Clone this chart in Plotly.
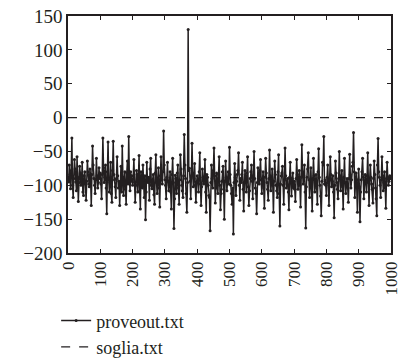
import plotly.graph_objects as go

# samples: set A at x = 0, 4, 8, ... ; set B at x = 2, 6, 10, ...
x_step = 4
proveout_a = [
    -88, -70, -105, -30, -118, -62, -95, -58, -124, -72, -100, -66, -115, -80, -122, -64, -98, -76, -130, -42, -90, -112, -60, -104, -74,
    -82, -120, -30, -96, -70, -142, -36, -110, -66, -125, -35, -92, -118, -58, -104, -130, -72, -42, -115, -80, -128, -64, -28, -108, -86,
    -100, -62, -125, -78, -110, -56, -135, -88, -70, -118, -151, -66, -96, -122, -60, -105, -84, -128, -55, -112, -74, -132, -58, -98, -20,
    -92, -120, -66, -108, -80, -135, -60, -164, -85, -112, -70, -128, -55, -100, -118, -25, -90, -140, 130, -75, -120, -38, -102, -68, -125,
    -86, -110, -52, -130, -76, -98, -62, -140, -88, -115, -167, -70, -104, -45, -126, -82, -112, -58, -136, -94, -72, -150, -64, -108, -80,
    -44, -100, -128, -172, -68, -115, -84, -52, -122, -96, -66, -138, -78, -110, -58, -130, -90, -70, -120, -50, -104, -142, -74, -98, -62,
    -112, -80, -134, -60, -96, -122, -48, -108, -76, -140, -64, -100, -118, -55, -160, -86, -72, -128, -45, -104, -90, -136, -66, -116, -82,
    -94, -124, -62, -106, -78, -132, -40, -98, -70, -163, -88, -52, -118, -74, -138, -60, -110, -84, -128, -46, -100, -145, -66, -28, -92,
    -115, -70, -130, -58, -102, -86, -148, -64, -96, -120, -50, -108, -78, -135, -60, -112, -90, -125, -54, -104, -72, -22, -118, -82, -140,
    -76, -154, -92, -60, -120, -84, -110, -52, -130, -70, -98, -126, -64, -104, -145, -31, -88, -118, -58, -108, -80, -134, -66, -100, -86,
    -90,
]
proveout_b = [
    -95, -84, -78, -100, -90, -76, -108, -88, -96, -82, -92, -110, -86, -98, -94, -80, -102, -88, -84, -70, -100, -92, -86, -96, -90,
    -98, -84, -74, -88, -104, -80, -90, -96, -112, -78, -84, -102, -90, -86, -94, -100, -110, -88, -92, -106, -82, -98, -90, -80, -94,
    -86, -96, -100, -84, -90, -108, -80, -104, -92, -86, -110, -94, -88, -76, -100, -92, -114, -82, -96, -90, -104, -86, -92, -80, -70,
    -100, -88, -94, -98, -110, -84, -96, -120, -90, -82, -104, -92, -76, -108, -86, -70, -112, -96, -78, -94, -86, -82, -90, -100, -96,
    -94, -80, -98, -102, -88, -92, -110, -84, -100, -118, -96, -90, -78, -86, -104, -96, -84, -100, -112, -80, -106, -94, -88, -92, -98,
    -84, -112, -104, -96, -88, -94, -78, -100, -90, -84, -106, -96, -92, -82, -102, -108, -80, -94, -86, -90, -112, -96, -88, -78, -92,
    -92, -104, -88, -82, -106, -90, -86, -96, -100, -94, -84, -108, -80, -112, -98, -82, -100, -92, -86, -98, -110, -88, -96, -90, -104,
    -106, -90, -84, -96, -100, -88, -80, -86, -110, -102, -76, -92, -98, -104, -90, -86, -96, -104, -80, -88, -116, -94, -70, -98, -100,
    -88, -96, -92, -84, -94, -110, -100, -82, -106, -90, -86, -94, -102, -88, -96, -98, -104, -90, -84, -92, -66, -80, -96, -104, -92,
    -102, -110, -80, -88, -98, -94, -86, -96, -92, -88, -106, -90, -84, -120, -70, -80, -100, -92, -86, -96, -104, -90, -88, -94, -90,
]
x_a = [i * x_step for i in range(len(proveout_a))]
x_b = [i * x_step + x_step // 2 for i in range(len(proveout_b))]
pairs = sorted(zip(x_a + x_b, proveout_a + proveout_b))
x_vals = [p[0] for p in pairs]
y_vals = [p[1] for p in pairs]

soglia_x = [0, 1000]
soglia_y = [0, 0]
x_ticks = [0, 100, 200, 300, 400, 500, 600, 700, 800, 900, 1000]
y_ticks = [-200, -150, -100, -50, 0, 50, 100, 150]

ink = "#231f20"
font = "Liberation Serif"

fig = go.Figure()
fig.add_trace(go.Scatter(
    x=x_vals, y=y_vals, mode="lines+markers", name="proveout.txt",
    line=dict(color=ink, width=1.5), marker=dict(color=ink, size=3),
))
fig.add_trace(go.Scatter(
    x=soglia_x, y=soglia_y, mode="lines", name="soglia.txt",
    line=dict(color=ink, width=1.2, dash="dash"),
))

axis_common = dict(
    showgrid=False, zeroline=False, showline=True, linecolor=ink, linewidth=1.5,
    mirror="ticks", ticks="inside", ticklen=4, tickcolor=ink, tickwidth=1,
    automargin=False,
)
fig.update_xaxes(range=[0, 1000], tickvals=x_ticks, tickangle=-90,
                 ticklabeloverflow="allow",
                 tickfont=dict(family=font, size=17, color=ink), **axis_common)
fig.update_yaxes(range=[-200, 150], tickvals=y_ticks,
                 tickfont=dict(family=font, size=19, color=ink), **axis_common)

fig.update_layout(
    width=401, height=359,
    margin=dict(l=68, r=10, t=16, b=106, autoexpand=False),
    paper_bgcolor="white", plot_bgcolor="white",
    showlegend=True,
    legend=dict(xref="container", yref="container", x=0.14, y=0.158,
                xanchor="left", yanchor="top",
                font=dict(family=font, size=18, color=ink),
                bgcolor="rgba(0,0,0,0)", tracegroupgap=0, itemwidth=30),
    font=dict(family=font, color=ink),
)
fig.write_html("out.html")
